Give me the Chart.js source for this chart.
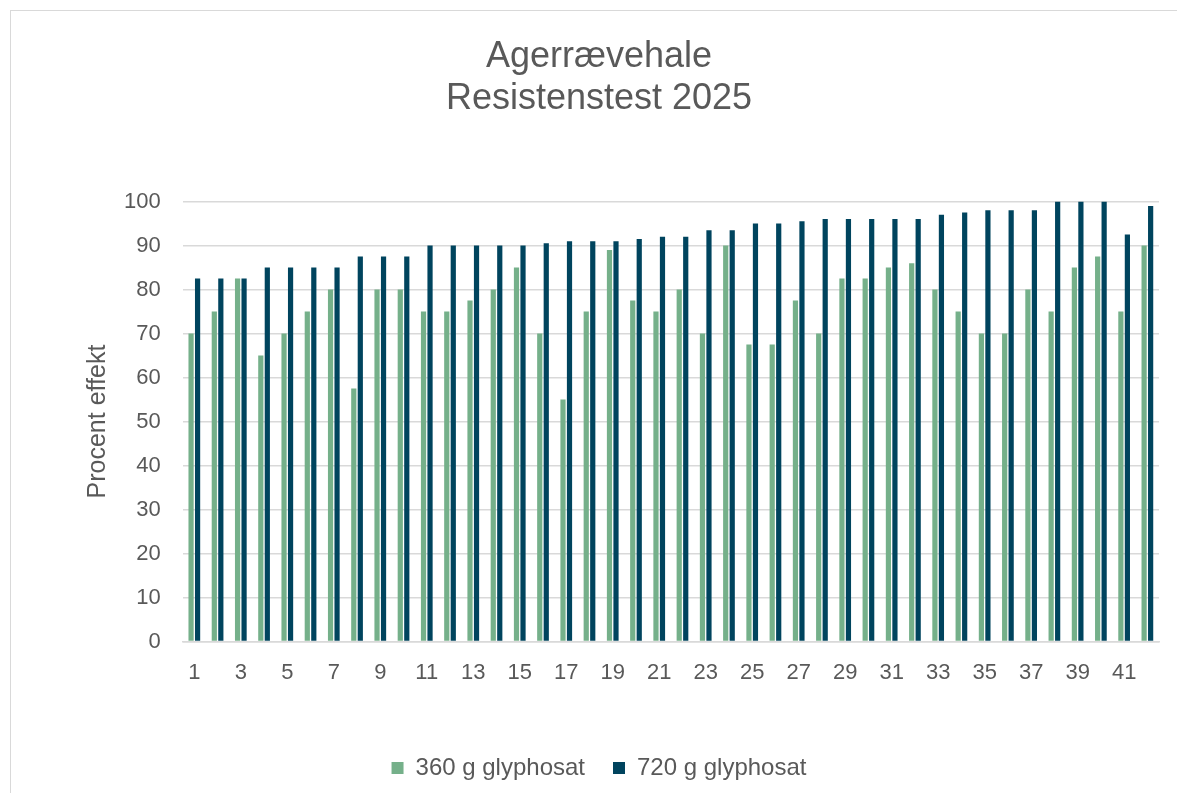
<!DOCTYPE html>
<html>
<head>
<meta charset="utf-8">
<script src="https://cdn.jsdelivr.net/npm/chart.js"></script>
<style>
  html, body { margin: 0; padding: 0; background: #fff; overflow: hidden; }
  #frame { position: absolute; left: 10px; top: 10px; width: 1400px; height: 1000px; border: 1.5px solid #d9d9d9; }
  #wrap { position: absolute; left: 0; top: 0; width: 1177px; height: 793px; }
</style>
</head>
<body>
<div id="frame"></div>
<div id="wrap"><canvas id="chart" width="1177" height="793"></canvas></div>
<script>
// data
var categories = ['1','2','3','4','5','6','7','8','9','10','11','12','13','14','15','16','17','18','19','20','21',
                  '22','23','24','25','26','27','28','29','30','31','32','33','34','35','36','37','38','39','40','41','42'];
var effekt360 = [70, 75, 82.5, 65, 70, 75, 80, 57.5, 80, 80,
                 75, 75, 77.5, 80, 85, 70, 55, 75, 89, 77.5,
                 75, 80, 70, 90, 67.5, 67.5, 77.5, 70, 82.5, 82.5,
                 85, 86, 80, 75, 70, 70, 80, 75, 85, 87.5, 75, 90];
var effekt720 = [82.5, 82.5, 82.5, 85, 85, 85, 85, 87.5, 87.5, 87.5,
                 90, 90, 90, 90, 90, 90.5, 91, 91, 91, 91.5,
                 92, 92, 93.5, 93.5, 95, 95, 95.5, 96, 96, 96,
                 96, 96, 97, 97.5, 98, 98, 98, 100, 100, 100, 92.5, 99];
var seriesNames = ['360 g glyphosat', '720 g glyphosat'];
var titleLines = ['Agerrævehale', 'Resistenstest 2025'];

var txt = '#595959';
var font = "'Liberation Sans', Arial, sans-serif";

var ctx = document.getElementById('chart').getContext('2d');
var chart = new Chart(ctx, {
    type: 'bar',
    data: {
        labels: categories,
        datasets: [{
            label: seriesNames[0],
            data: effekt360,
            backgroundColor: '#75b08a',
            categoryPercentage: 0.56,
            barPercentage: 0.8
        }, {
            label: seriesNames[1],
            data: effekt720,
            backgroundColor: '#00445e',
            categoryPercentage: 0.56,
            barPercentage: 0.8
        }]
    },
    options: {
        responsive: false,
        animation: false,
        layout: { padding: { left: 39, right: 18, top: 0, bottom: 3 } },
        plugins: {
            title: {
                display: true,
                text: titleLines,
                color: txt,
                font: { family: font, size: 36, weight: 'normal', lineHeight: 1.16 },
                padding: { top: 36, bottom: 82 }
            },
            legend: {
                position: 'bottom',
                labels: {
                    boxWidth: 12,
                    boxHeight: 12,
                    padding: 28,
                    color: txt,
                    font: { family: font, size: 24 }
                }
            },
            tooltip: { enabled: false }
        },
        scales: {
            x: {
                grid: { display: false },
                border: { display: true, color: '#d9d9d9', width: 1.5 },
                ticks: {
                    color: txt,
                    font: { family: font, size: 22 },
                    padding: 10,
                    autoSkip: false,
                    maxRotation: 0,
                    callback: function(val, i) {
                        return i % 2 === 0 ? this.getLabelForValue(val) : '';
                    }
                },
                afterFit: function(scale) { scale.height += 32; }
            },
            y: {
                min: 0,
                max: 100,
                grid: { color: '#d9d9d9', lineWidth: 1.5, drawTicks: false },
                border: { display: false },
                ticks: {
                    stepSize: 10,
                    color: txt,
                    font: { family: font, size: 22 },
                    padding: 22
                },
                title: {
                    display: true,
                    text: 'Procent effekt',
                    color: txt,
                    font: { family: font, size: 25, lineHeight: 1.2 },
                    padding: { top: 44, bottom: -11 }
                }
            }
        }
    }
});
</script>
</body>
</html>
